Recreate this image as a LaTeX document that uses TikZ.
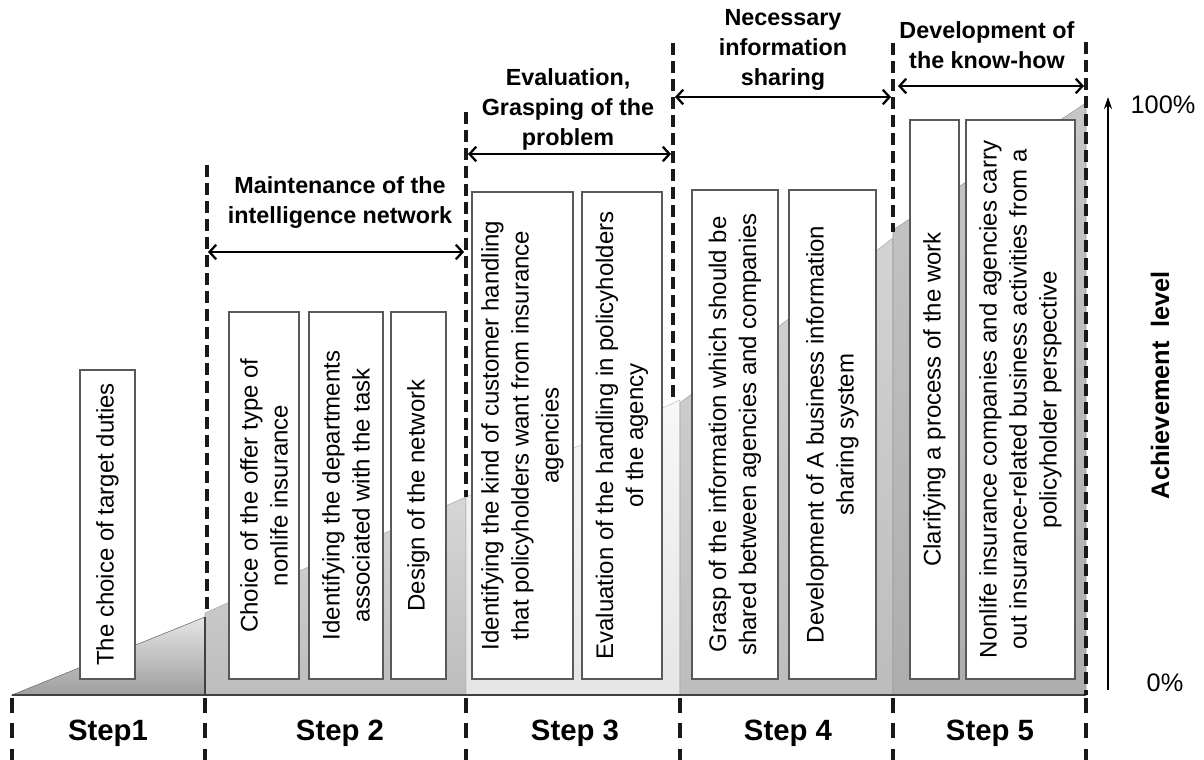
\documentclass[tikz,border=0pt]{standalone}
\usepackage{fontspec}
\setmainfont{Liberation Sans}
\usetikzlibrary{arrows.meta}

\begin{document}
\begin{tikzpicture}[x=0.75pt,y=-0.75pt,
  task/.style={draw=black!65, fill=white, line width=0.9pt, rotate=90, inner sep=0pt,
    align=center, font=\fontsize{18}{22.5}\selectfont},
  steplabel/.style={font=\fontsize{22}{26}\selectfont\bfseries},
  phase/.style={align=center, font=\fontsize{17.5}{22.5}\selectfont\bfseries},
  guide/.style={black!90, line width=2.4pt, dash pattern=on 9pt off 4.5pt},
  tick/.style={black!90, line width=2.4pt, dash pattern=on 11pt off 8pt},
  span/.style={{Straight Barb[length=5pt,width=11pt]}-{Straight Barb[length=5pt,width=11pt]}, line width=1.7pt}
]
  \useasboundingbox (0,0) rectangle (1204,760);

  % achievement areas
  \path[top color=black!10, bottom color=black!38, draw=black!60] (12,695) -- (205,617) -- (205,695) -- cycle;
  \path[top color=black!16, bottom color=black!26, draw=black!35] (205,695) -- (205,613) -- (466,497) -- (466,695) -- cycle;
  \path[top color=black!3, bottom color=black!10, draw=black!25] (466,695) -- (466,497) -- (680,400) -- (680,695) -- cycle;
  \path[top color=black!17, bottom color=black!26, draw=black!35] (680,695) -- (680,403) -- (893,238) -- (893,695) -- cycle;
  \path[top color=black!22, bottom color=black!32, draw=black!40] (893,695) -- (893,230) -- (1086,103) -- (1086,695) -- cycle;
  \draw[black!75, line width=1.2pt] (12,695) -- (1086,695);
  \draw[black!75, line width=1pt] (205,617) -- (205,695);

  % Step 1
  \node[task, minimum width=231.75pt, minimum height=41.25pt] (t1) at (107.5,524.5) {The choice of target duties};

  % Step 2
  \node[task, minimum width=275.25pt, minimum height=52.5pt] (t2a) at (264,495.5) {Choice of the offer type of\\nonlife insurance};
  \node[task, minimum width=275.25pt, minimum height=55.5pt] (t2b) at (346,495.5) {Identifying the departments\\associated with the task};
  \node[task, minimum width=275.25pt, minimum height=41.25pt] (t2c) at (418.5,495.5) {Design of the network};

  % Step 3
  \node[task, minimum width=365.25pt, minimum height=75.75pt] (t3a) at (522.5,435.5) {Identifying the kind of customer handling\\that policyholders want from insurance\\agencies};
  \node[task, minimum width=365.25pt, minimum height=60pt] (t3b) at (622,435.5) {Evaluation of the handling in policyholders\\of the agency};

  % Step 4
  \node[task, minimum width=366.75pt, minimum height=64.5pt] (t4a) at (735,434.5) {Grasp of the information which should be\\shared between agencies and companies};
  \node[task, minimum width=366.75pt, minimum height=65.25pt] (t4b) at (832.5,434.5) {Development of A business information\\sharing system};

  % Step 5
  \node[task, minimum width=419.25pt, minimum height=36.75pt] (t5a) at (934.5,399.5) {Clarifying a process of the work};
  \node[task, minimum width=419.25pt, minimum height=81.75pt] (t5b) at (1020.5,399.5) {Nonlife insurance companies and agencies carry\\out insurance-related business activities from a\\policyholder perspective};

  % dashed guides above the areas
  \draw[guide] (207,165) -- (207,613);
  \draw[guide] (466,112) -- (466,497);
  \draw[guide] (673,43) -- (673,400);
  \draw[guide] (893,43) -- (893,232);
  \draw[guide] (1086,42) -- (1086,695);

  % dashed ticks below the base line
  \foreach \bx in {12,205,466,680,893,1086}
    \draw[tick] (\bx,698) -- (\bx,760);

  % phases and their spans
  \coordinate (a2l) at (208,252);
  \coordinate (a2r) at (464,252);
  \coordinate (a3l) at (468,154);
  \coordinate (a3r) at (671,154);
  \coordinate (a4l) at (675,97);
  \coordinate (a4r) at (891,97);
  \coordinate (a5l) at (898,86);
  \coordinate (a5r) at (1084,86);
  \draw[span] (a2l) -- (a2r);
  \draw[span] (a3l) -- (a3r);
  \draw[span] (a4l) -- (a4r);
  \draw[span] (a5l) -- (a5r);
  \node[phase] (p2) at (340,203) {Maintenance of the\\intelligence network};
  \node[phase] (p3) at (568,109) {Evaluation,\\Grasping of the\\problem};
  \node[phase] (p4) at (783,50) {Necessary\\information\\sharing};
  \node[phase] (p5) at (987,45) {Development of\\the know-how};

  % step names
  \node[steplabel] (s1) at (108,733) {Step1};
  \node[steplabel] (s2) at (340,733) {Step 2};
  \node[steplabel] (s3) at (575,733) {Step 3};
  \node[steplabel] (s4) at (788,733) {Step 4};
  \node[steplabel] (s5) at (990,733) {Step 5};

  % achievement axis
  \coordinate (ax0) at (1108,690);
  \coordinate (ax1) at (1108,97);
  \draw[-{Stealth[length=9pt,width=6pt]}, line width=1.3pt] (ax0) -- (ax1);
  \node[font=\fontsize{19}{22}\selectfont] (top) at (1163,105) {100\%};
  \node[font=\fontsize{19}{22}\selectfont] (bot) at (1165,683) {0\%};
  \node[rotate=90, font=\fontsize{19}{22}\selectfont\bfseries] (lvl) at (1160,385) {Achievement\ \ level};
\end{tikzpicture}
\end{document}
